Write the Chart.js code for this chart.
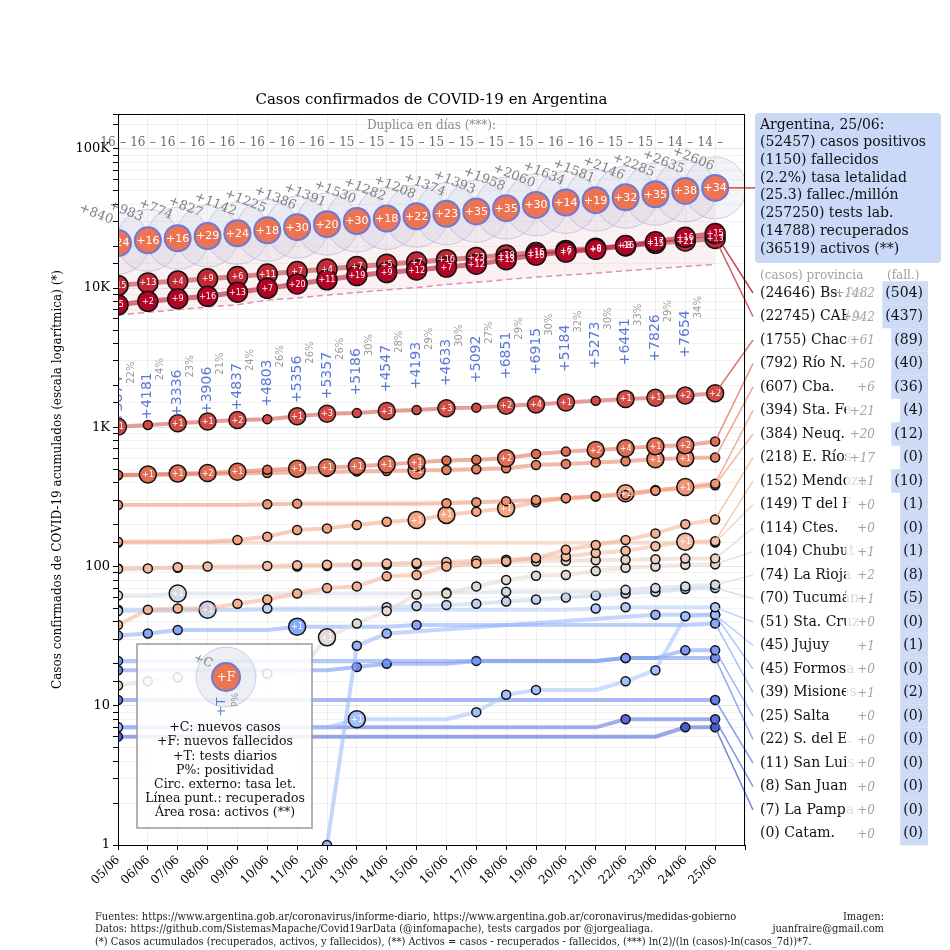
<!DOCTYPE html>
<html lang="es">
<head>
<meta charset="utf-8">
<title>Casos confirmados de COVID-19 en Argentina</title>
<script src="https://cdn.jsdelivr.net/npm/chart.js@4.4.1/dist/chart.umd.min.js"></script>
<style>
  html, body { margin: 0; padding: 0; background: #fff; }
  #box { width: 950px; height: 950px; }
</style>
</head>
<body>
<div id="box"><canvas id="chart" width="950" height="950"></canvas></div>
<script>
// Values (05/06 .. 25/06).
const dates = ['05/06', '06/06', '07/06', '08/06', '09/06', '10/06', '11/06', '12/06', '13/06', '14/06',
  '15/06', '16/06', '17/06', '18/06', '19/06', '20/06', '21/06', '22/06', '23/06', '24/06', '25/06'];

const argCases = [21037, 22020, 22794, 23621, 24763, 25988, 27374, 28765, 30295, 31577, 32785,
  34159, 35552, 37510, 39570, 41204, 42785, 44931, 47216, 49851, 52457];
const argNewCases = [840, 983, 774, 827, 1142, 1225, 1386, 1391, 1530, 1282, 1208,
  1374, 1393, 1958, 2060, 1634, 1581, 2146, 2285, 2635, 2606];
const argNewDeaths = [24, 16, 16, 29, 24, 18, 30, 20, 30, 18, 22, 23, 35, 35, 30, 14, 19, 32, 35, 38, 34];
const argRecovered = [6400, 6700, 7000, 7300, 7600, 8200, 8500, 8900, 9300, 9700, 10100,
  10600, 11000, 11500, 12000, 12400, 12800, 13300, 13800, 14300, 14788];
const argNewTests = [3874, 4181, 3336, 3906, 4837, 4803, 5356, 5357, 5186, 4547,
  4193, 4633, 5092, 6851, 6915, 5184, 5273, 6441, 7826, 7654];
const positivity = [22, 24, 23, 21, 24, 26, 26, 26, 30, 28, 29, 30, 27, 29, 30, 32, 30, 33, 29, 34];
const doublingDays = [16, 16, 16, 16, 16, 16, 16, 16, 15, 15, 15, 15, 15, 15, 15, 16, 16, 15, 15, 14, 14];

const summaryLines = ['Argentina, 25/06:', '(52457) casos positivos', '(1150) fallecidos',
  '(2.2%) tasa letalidad', '(25.3) fallec./millón', '(257250) tests lab.',
  '(14788) recuperados', '(36519) activos (**)'];

const yTickValues = [1, 10, 100, 1000, 10000, 100000];
const yTickLabels = ['1', '10', '100', '1K', '10K', '100K'];

// Province table on the right, in ranking order
const provNames = ['Bs. As.', 'CABA', 'Chaco', 'Río N.', 'Cba.', 'Sta. Fe', 'Neuq.', 'E. Ríos', 'Mendoza',
  'T del F', 'Ctes.', 'Chubut', 'La Rioja', 'Tucumán', 'Sta. Cruz', 'Jujuy', 'Formosa', 'Misiones',
  'Salta', 'S. del E.', 'San Luis', 'San Juan', 'La Pampa', 'Catam.'];
const provCases = [24646, 22745, 1755, 792, 607, 394, 384, 218, 152, 149, 114, 104, 74, 70, 51, 45, 45, 39,
  25, 22, 11, 8, 7, 0];
const provNewCases = [1482, 942, 61, 50, 6, 21, 20, 17, 1, 0, 0, 1, 2, 1, 0, 1, 0, 1, 0, 0, 0, 0, 0, 0];
const provDeaths = [504, 437, 89, 40, 36, 4, 12, 0, 10, 1, 0, 1, 8, 5, 0, 1, 0, 2, 0, 0, 0, 0, 0, 0];

// Cumulative cases per province (Catamarca stays at 0 and is not drawn on the log axis)
const casesBsAs = [7587, 8040, 8384, 8731, 9333, 9968, 10714, 11465, 12295, 12927, 13485, 14159, 14852,
  16010, 17270, 18154, 18985, 20231, 21516, 23164, 24646];
const casesCABA = [10450, 10900, 11250, 11650, 12100, 12600, 13150, 13700, 14300, 14850, 15400, 16000,
  16600, 17300, 18000, 18650, 19300, 20100, 20950, 21803, 22745];
const casesChaco = [1010, 1040, 1070, 1100, 1130, 1145, 1200, 1250, 1265, 1310, 1330, 1370, 1385, 1430,
  1460, 1510, 1550, 1600, 1630, 1694, 1755];
const casesRioNegro = [455, 458, 465, 470, 480, 495, 505, 515, 525, 540, 560, 578, 585, 600, 644, 669, 688,
  708, 730, 742, 792];
const casesCordoba = [452, 455, 458, 462, 466, 470, 474, 478, 482, 486, 490, 494, 500, 508, 537, 546, 560,
  570, 590, 601, 607];
const casesSantaFe = [277, 277, 277, 277, 277, 280, 283, 283, 283, 283, 283, 285, 290, 295, 301, 310, 320,
  327, 350, 373, 394];
const casesNeuquen = [151, 151, 151, 151, 155, 164, 183, 188, 199, 210, 216, 235, 248, 262, 290, 310, 318,
  336, 355, 364, 384];
const casesEntreRios = [38, 49, 50, 50, 54, 58, 64, 70, 72, 85, 87, 100, 105, 109, 115, 132, 143, 155, 173,
  201, 218];
const casesMendoza = [96, 97, 99, 100, 100, 101, 102, 103, 104, 105, 106, 108, 110, 112, 115, 118, 125, 130,
  140, 151, 152];
const casesTierraDelFuego = [148, 148, 148, 148, 148, 148, 148, 148, 148, 148, 148, 148, 148, 148, 148, 148,
  148, 148, 148, 149, 149];
const casesCorrientes = [97, 97, 98, 98, 98, 98, 100, 101, 102, 103, 104, 106, 107, 108, 109, 110, 111, 112,
  113, 114, 114];
const casesChubut = [14, 15, 16, 16, 16, 17, 17, 31, 39, 48, 63, 64, 72, 80, 86, 87, 93, 98, 100, 103, 104];
const casesLaRioja = [62, 62, 64, 64, 64, 64, 64, 64, 64, 64, 64, 65, 65, 66, 66, 66, 66, 68, 70, 72, 74];
const casesTucuman = [48, 48, 48, 49, 49, 50, 50, 50, 50, 51, 52, 53, 54, 56, 58, 60, 62, 64, 66, 69, 70];
const casesSantaCruz = [49, 49, 49, 49, 49, 49, 49, 49, 49, 49, 49, 49, 49, 49, 49, 49, 50, 51, 51, 51, 51];
const casesJujuy = [7, 7, 7, 7, 7, 7, 7, 7, 8, 8, 8, 8, 9, 12, 13, 13, 13, 15, 18, 44, 45];
const casesFormosa = [null, null, null, null, null, null, null, 1, 27, 33, null, null, null, null, null,
  null, null, null, 45, 45, 45];
const casesMisiones = [32, 33, 35, 35, 35, 35, 37, 37, 37, 37, 38, 38, 38, 38, 38, 38, 38, 38, 38, 38, 39];
const casesSalta = [21, 21, 21, 21, 21, 21, 21, 21, 21, 21, 21, 21, 21, 21, 21, 21, 21, 22, 22, 25, 25];
const casesSantiago = [18, 18, 18, 18, 18, 18, 18, 18, 19, 20, 20, 20, 21, 21, 21, 21, 21, 22, 22, 22, 22];
const casesSanLuis = [11, 11, 11, 11, 11, 11, 11, 11, 11, 11, 11, 11, 11, 11, 11, 11, 11, 11, 11, 11, 11];
const casesSanJuan = [7, 7, 7, 7, 7, 7, 7, 7, 7, 7, 7, 7, 7, 7, 7, 7, 7, 8, 8, 8, 8];
const casesLaPampa = [6, 6, 6, 6, 6, 6, 6, 6, 6, 6, 6, 6, 6, 6, 6, 6, 6, 6, 6, 7, 7];

// New deaths per day (labels inside the circles)
const deathsBsAs = [5, 2, 9, 16, 13, 7, 20, 11, 19, 9, 12, 7, 12, 13, 16, 7, 6, 16, 17, 16, 15];
const deathsCABA = [15, 13, 4, 9, 6, 11, 7, 4, 7, 5, 7, 16, 23, 18, 16, 6, 9, 8, 15, 21, 13];
const deathsChaco = [1, 0, 1, 1, 2, 0, 1, 3, 0, 3, 0, 3, 0, 2, 4, 1, 0, 1, 1, 2, 2];
const deathsRioNegro = [0, 1, 1, 2, 1, 0, 1, 1, 1, 1, 1, 0, 0, 2, 0, 0, 2, 4, 1, 2, 0];
const deathsCordoba = [0, 0, 0, 0, 0, 0, 0, 0, 0, 0, 1, 0, 0, 0, 0, 0, 0, 0, 1, 1, 0];
const deathsSantaFe = [0, 0, 0, 0, 0, 0, 0, 0, 0, 0, 0, 0, 0, 0, 0, 0, 0, 0, 0, 1, 0];
const deathsNeuquen = [0, 0, 0, 0, 0, 0, 0, 0, 0, 0, 1, 1, 0, 1, 0, 0, 0, 1, 0, 0, 0];
const deathsMendoza = [0, 0, 0, 0, 0, 0, 0, 0, 0, 0, 0, 0, 0, 0, 0, 0, 0, 0, 0, 1, 0];
const deathsChubut = [0, 0, 0, 0, 0, 0, 0, 1, 0, 0, 0, 0, 0, 0, 0, 0, 0, 0, 0, 0, 0];
const deathsLaRioja = [0, 0, 1, 0, 0, 0, 0, 0, 0, 0, 0, 0, 0, 0, 0, 0, 0, 0, 0, 0, 0];
const deathsTucuman = [0, 0, 0, 1, 0, 0, 0, 0, 0, 0, 0, 0, 0, 0, 0, 0, 0, 0, 0, 0, 0];
const deathsJujuy = [0, 0, 0, 0, 0, 0, 0, 0, 1, 0, 0, 0, 0, 0, 0, 0, 0, 0, 0, 0, 0];
const deathsMisiones = [0, 0, 0, 0, 0, 0, 1, 0, 0, 0, 0, 0, 0, 0, 0, 0, 0, 0, 0, 0, 0];

const provinceSeries = [casesBsAs, casesCABA, casesChaco, casesRioNegro, casesCordoba, casesSantaFe,
  casesNeuquen, casesEntreRios, casesMendoza, casesTierraDelFuego, casesCorrientes, casesChubut,
  casesLaRioja, casesTucuman, casesSantaCruz, casesJujuy, casesFormosa, casesMisiones, casesSalta,
  casesSantiago, casesSanLuis, casesSanJuan, casesLaPampa];
const provinceDeathSeries = [deathsBsAs, deathsCABA, deathsChaco, deathsRioNegro, deathsCordoba,
  deathsSantaFe, deathsNeuquen, null, deathsMendoza, null, null, deathsChubut, deathsLaRioja,
  deathsTucuman, null, deathsJujuy, null, deathsMisiones, null, null, null, null, null];

const SERIF = "'DejaVu Serif', serif";
const SANS = "'DejaVu Sans', sans-serif";

// matplotlib-like coolwarm, used to colour provinces by rank
const coolwarmStops = [[59, 76, 192], [95, 127, 232], [130, 165, 251], [170, 199, 253], [221, 221, 221],
  [242, 196, 172], [245, 160, 125], [222, 107, 82], [180, 4, 38]];
function coolwarm(t, alpha) {
  const p = Math.max(0, Math.min(1, t)) * (coolwarmStops.length - 1);
  const i = Math.min(Math.floor(p), coolwarmStops.length - 2);
  const f = p - i;
  const c = coolwarmStops[i].map((v, k) => Math.round(v + (coolwarmStops[i + 1][k] - v) * f));
  return `rgba(${c[0]},${c[1]},${c[2]},${alpha})`;
}
const rankT = (k) => 1 - k / 23;

// circles appear where the series changes or where there were deaths
function pointSize(series, deaths, big) {
  return (c) => {
    const i = c.dataIndex;
    if (series[i] == null) return 0;
    if (deaths && deaths[i] > 0) return big;
    const changed = i === 0 || i === series.length - 1 || series[i] !== series[i - 1];
    return changed ? 4.5 : 0;
  };
}

const rowY = (k) => 293 + k * 23.5;

function roundRect(ctx, x, y, w, h, r) {
  ctx.beginPath();
  ctx.moveTo(x + r, y);
  ctx.arcTo(x + w, y, x + w, y + h, r);
  ctx.arcTo(x + w, y + h, x, y + h, r);
  ctx.arcTo(x, y + h, x, y, r);
  ctx.arcTo(x, y, x + w, y, r);
  ctx.closePath();
}

const PROV_OFFSET = 4;

const overlay = {
  id: 'overlay',
  afterDatasetsDraw(chart) {
    const { ctx, chartArea: a, scales: { x } } = chart;
    const argMeta = chart.getDatasetMeta(3);

    ctx.save();
    ctx.beginPath();
    ctx.rect(a.left, a.top, a.right - a.left, a.bottom - a.top);
    ctx.clip();
    ctx.textAlign = 'center';
    ctx.textBaseline = 'middle';

    // deaths inside province circles
    provinceSeries.forEach((series, k) => {
      const deaths = provinceDeathSeries[k];
      if (!deaths) return;
      const meta = chart.getDatasetMeta(PROV_OFFSET + k);
      ctx.font = `8px ${SANS}`;
      ctx.fillStyle = '#fff';
      meta.data.forEach((pt, i) => {
        if (series[i] == null || !deaths[i]) return;
        ctx.fillText('+' + deaths[i], pt.x, pt.y + 0.5);
      });
    });

    // deaths inside the Argentina circles
    ctx.font = `11px ${SANS}`;
    ctx.fillStyle = '#fff';
    argMeta.data.forEach((pt, i) => ctx.fillText('+' + argNewDeaths[i], pt.x, pt.y + 0.5));

    // daily tests and positivity, vertical
    argNewTests.forEach((n, i) => {
      const pt = argMeta.data[i];
      const label = '+' + n;
      ctx.save();
      ctx.translate(pt.x, pt.y + 180 - i * 0.7);
      ctx.rotate(-Math.PI / 2);
      ctx.textAlign = 'left';
      ctx.font = `14px ${SANS}`;
      ctx.fillStyle = '#5a79d4';
      const w = ctx.measureText(label).width;
      ctx.fillText(label, 0, 0);
      ctx.font = `10px ${SANS}`;
      ctx.fillStyle = '#9a9a9a';
      ctx.fillText(positivity[i] + '%', w - 8, 13);
      ctx.restore();
    });
    ctx.restore();

    // new cases above the Argentina circles
    ctx.save();
    ctx.font = `13px ${SERIF}`;
    ctx.fillStyle = '#7f7f7f';
    ctx.textAlign = 'center';
    ctx.textBaseline = 'middle';
    argMeta.data.forEach((pt, i) => {
      ctx.save();
      ctx.translate(pt.x - 22, pt.y - 29);
      ctx.rotate(22 * Math.PI / 180);
      ctx.fillText('+' + argNewCases[i], 0, 0);
      ctx.restore();
    });

    // doubling time row
    ctx.font = `12px ${SERIF}`;
    ctx.fillStyle = '#8a8a8a';
    ctx.fillText('Duplica en días (***):', (a.left + a.right) / 2, 126);
    ctx.fillStyle = '#6a6a6a';
    doublingDays.forEach((d, i) => {
      const px = x.getPixelForValue(i);
      ctx.fillText(String(d), px - 10, 143);
      ctx.fillText('–', px + 5, 143);
    });

    // connectors to the right-hand table
    ctx.lineWidth = 1.5;
    provinceSeries.forEach((series, k) => {
      const last = series.length - 1;
      if (series[last] == null) return;
      const pt = chart.getDatasetMeta(PROV_OFFSET + k).data[last];
      ctx.strokeStyle = coolwarm(rankT(k), 0.75);
      ctx.beginPath();
      ctx.moveTo(pt.x, pt.y);
      ctx.lineTo(753, rowY(k));
      ctx.stroke();
    });
    const argLast = argMeta.data[argMeta.data.length - 1];
    ctx.strokeStyle = '#d64541';
    ctx.beginPath();
    ctx.moveTo(argLast.x + 13, argLast.y);
    ctx.lineTo(755, argLast.y);
    ctx.stroke();
    ctx.restore();
  },

  afterDraw(chart) {
    const { ctx, chartArea: a } = chart;
    ctx.save();

    // frame
    ctx.strokeStyle = '#000';
    ctx.lineWidth = 1;
    ctx.strokeRect(a.left + 0.5, a.top + 0.5, a.right - a.left - 1, a.bottom - a.top);

    // title and y title
    ctx.fillStyle = '#000';
    ctx.textAlign = 'center';
    ctx.textBaseline = 'middle';
    ctx.font = `15px ${SERIF}`;
    ctx.fillText('Casos confirmados de COVID-19 en Argentina', (a.left + a.right) / 2, 100);
    ctx.save();
    ctx.translate(58, (a.top + a.bottom) / 2);
    ctx.rotate(-Math.PI / 2);
    ctx.font = `12px ${SERIF}`;
    ctx.fillText('Casos confirmados de COVID-19 acumulados (escala logarítmica) (*)', 0, 0);
    ctx.restore();

    // Argentina summary box
    ctx.fillStyle = 'rgba(196,213,246,0.9)';
    roundRect(ctx, 755, 113, 186, 150, 4);
    ctx.fill();
    ctx.fillStyle = '#111';
    ctx.textAlign = 'left';
    ctx.font = `14px ${SERIF}`;
    summaryLines.forEach((s, k) => ctx.fillText(s, 760, 125 + k * 17.7));

    // province table
    ctx.font = `12px ${SERIF}`;
    ctx.fillStyle = '#a0a0a0';
    ctx.fillText('(casos) provincia', 760, 276);
    ctx.fillText('(fall.)', 887, 276);
    provNames.forEach((name, k) => {
      const yy = rowY(k);
      ctx.font = `14px ${SERIF}`;
      const dText = `(${provDeaths[k]})`;
      const dw = ctx.measureText(dText).width;
      ctx.fillStyle = 'rgba(196,213,246,0.85)';
      ctx.fillRect(923 - dw - 3, yy - 11.75, dw + 8, 23.5);
      ctx.fillStyle = '#111';
      ctx.textAlign = 'left';
      ctx.fillText(`(${provCases[k]}) ${name}`, 760, yy);
      ctx.fillStyle = 'rgba(255,255,255,0.85)';
      ctx.fillRect(846, yy - 10, 34, 20);
      ctx.textAlign = 'right';
      ctx.fillStyle = '#111';
      ctx.fillText(dText, 923, yy);
      ctx.font = `italic 12px ${SERIF}`;
      ctx.fillStyle = '#a3a3a3';
      ctx.fillText('+' + provNewCases[k], 875, yy + 1);
    });

    // explanation box
    ctx.fillStyle = 'rgba(255,255,255,0.86)';
    ctx.fillRect(137, 644, 175, 184);
    ctx.strokeStyle = '#9a9a9a';
    ctx.lineWidth = 1.5;
    ctx.strokeRect(137, 644, 175, 184);
    ctx.beginPath();
    ctx.arc(226, 677, 30, 0, Math.PI * 2);
    ctx.fillStyle = 'rgba(200,202,222,0.3)';
    ctx.fill();
    ctx.strokeStyle = 'rgba(120,130,200,0.35)';
    ctx.lineWidth = 1;
    ctx.stroke();
    ctx.beginPath();
    ctx.arc(226, 677, 14, 0, Math.PI * 2);
    ctx.fillStyle = '#ec7452';
    ctx.fill();
    ctx.strokeStyle = '#6a7ad8';
    ctx.lineWidth = 2;
    ctx.stroke();
    ctx.textAlign = 'center';
    ctx.fillStyle = '#fff';
    ctx.font = `12px ${SERIF}`;
    ctx.fillText('+F', 226, 678);
    ctx.save();
    ctx.translate(203, 661);
    ctx.rotate(22 * Math.PI / 180);
    ctx.fillStyle = '#7f7f7f';
    ctx.fillText('+C', 0, 0);
    ctx.restore();
    ctx.save();
    ctx.translate(222, 707);
    ctx.rotate(-Math.PI / 2);
    ctx.fillStyle = '#5a79d4';
    ctx.font = `13px ${SANS}`;
    ctx.fillText('+T', 0, 0);
    ctx.restore();
    ctx.save();
    ctx.translate(236, 700);
    ctx.rotate(-Math.PI / 2);
    ctx.fillStyle = '#9a9a9a';
    ctx.font = `9px ${SANS}`;
    ctx.fillText('P%', 0, 0);
    ctx.restore();
    ctx.fillStyle = '#111';
    ctx.font = `12.5px ${SERIF}`;
    ['+C: nuevos casos', '+F: nuevos fallecidos', '+T: tests diarios', 'P%: positividad',
      'Circ. externo: tasa let.', 'Línea punt.: recuperados', 'Área rosa: activos (**)']
      .forEach((s, k) => ctx.fillText(s, 225, 728 + k * 14.2));

    // footer
    ctx.font = `11px 'DejaVu Serif Condensed', ${SERIF}`;
    ctx.fillStyle = '#222';
    ctx.textAlign = 'left';
    ctx.fillText('Fuentes: https://www.argentina.gob.ar/coronavirus/informe-diario, https://www.argentina.gob.ar/coronavirus/medidas-gobierno', 95, 917);
    ctx.fillText('Datos: https://github.com/SistemasMapache/Covid19arData (@infomapache), tests cargados por @jorgealiaga.', 95, 929);
    ctx.fillText('(*) Casos acumulados (recuperados, activos, y fallecidos), (**) Activos = casos - recuperados - fallecidos, (***) ln(2)/(ln (casos)-ln(casos_7d))*7.', 95, 942);
    ctx.textAlign = 'right';
    ctx.fillText('Imagen:', 884, 917);
    ctx.fillText('juanfraire@gmail.com', 884, 929);
    ctx.restore();
  }
};

const isPow10 = (v) => v > 0 && Math.abs(Math.log10(v) - Math.round(Math.log10(v))) < 1e-9;

const provinceDatasets = provinceSeries.map((series, k) => ({
  label: provNames[k],
  data: series,
  borderColor: coolwarm(rankT(k), 0.55),
  borderWidth: k < 2 ? 5 : 4,
  pointBackgroundColor: coolwarm(rankT(k), 1),
  pointBorderColor: '#111',
  pointBorderWidth: 1.5,
  pointRadius: pointSize(series, provinceDeathSeries[k], k < 2 ? 10 : 8.5),
  spanGaps: true,
  tension: 0,
  fill: false,
  order: 2 + k
}));

new Chart(document.getElementById('chart'), {
  type: 'line',
  data: {
    labels: dates.map((_, i) => i),
    datasets: [
      { // outer circles: lethality
        data: argCases, showLine: false, pointRadius: 31,
        pointBackgroundColor: 'rgba(200,202,224,0.22)', pointBorderColor: 'rgba(120,130,200,0.35)',
        pointBorderWidth: 1, order: 60
      },
      { // active cases area
        data: argCases, borderWidth: 0, borderColor: 'rgba(0,0,0,0)', pointRadius: 0,
        fill: 2, backgroundColor: 'rgba(236,165,175,0.16)', order: 70
      },
      { // recovered, dashed
        data: argRecovered, borderColor: 'rgba(214,120,160,0.8)', borderDash: [6, 4], borderWidth: 1.5,
        pointRadius: 0, fill: false, order: 40
      },
      { // Argentina total
        data: argCases, showLine: false, pointRadius: 13,
        pointBackgroundColor: '#ec7452', pointBorderColor: '#6a7ad8', pointBorderWidth: 2, order: 0
      },
      ...provinceDatasets
    ]
  },
  options: {
    responsive: false,
    animation: false,
    events: [],
    layout: { padding: { left: 0, right: 205, top: 114, bottom: 0 } },
    plugins: { legend: { display: false }, tooltip: { enabled: false }, title: { display: false } },
    scales: {
      x: {
        type: 'linear',
        min: 0,
        max: 21,
        afterFit: (s) => { s.height = 105; },
        ticks: {
          stepSize: 1,
          autoSkip: false,
          minRotation: 45,
          maxRotation: 45,
          color: '#000',
          font: { family: SERIF, size: 12 },
          callback: (v) => dates[v] ?? ''
        },
        grid: { color: 'rgba(0,0,0,0.06)', tickColor: '#000', tickLength: 5 },
        border: { color: '#000' }
      },
      y: {
        type: 'logarithmic',
        min: 1,
        max: 178000,
        afterFit: (s) => { s.width = 118; },
        ticks: {
          autoSkip: false,
          color: '#000',
          font: { family: SERIF, size: 13 },
          callback: (v) => {
            const idx = yTickValues.findIndex((t) => Math.abs(t - v) < 1e-6 * t);
            return idx >= 0 ? yTickLabels[idx] : '';
          }
        },
        grid: {
          color: (c) => (c.tick && isPow10(c.tick.value) ? 'rgba(0,0,0,0.10)' : 'rgba(0,0,0,0.05)'),
          tickColor: '#000',
          tickLength: 5
        },
        border: { color: '#000' }
      }
    }
  },
  plugins: [overlay]
});
</script>
</body>
</html>
